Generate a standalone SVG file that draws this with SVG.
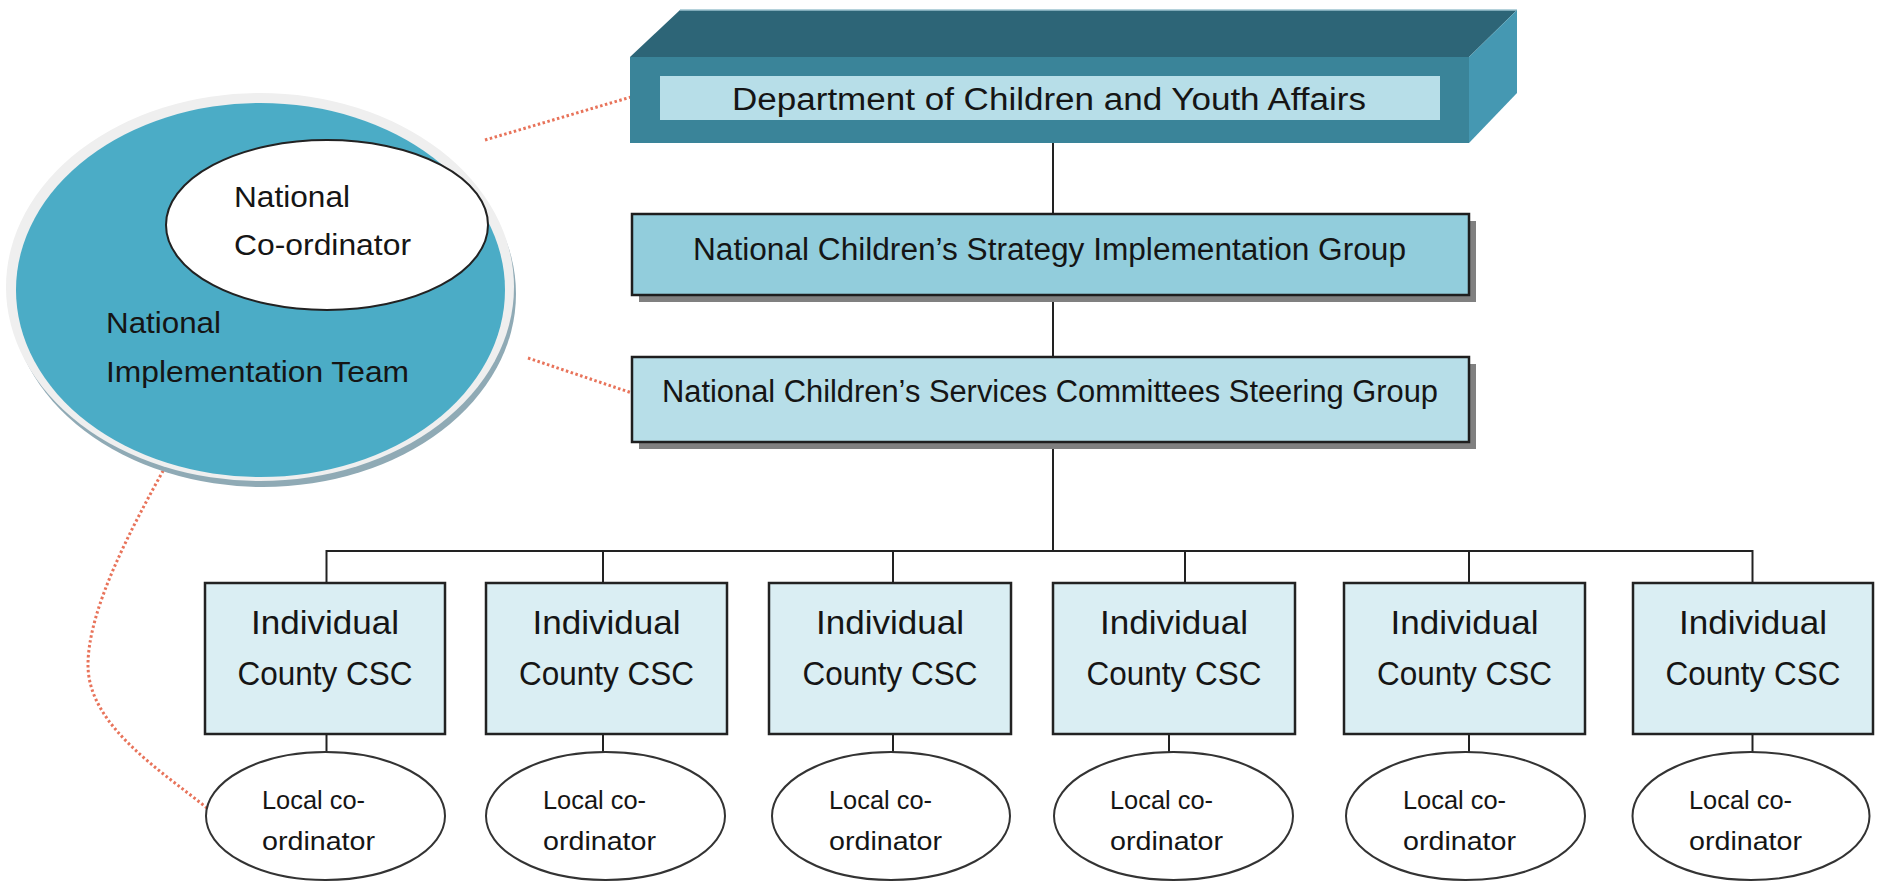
<svg xmlns="http://www.w3.org/2000/svg" width="1878" height="881" viewBox="0 0 1878 881">
<defs>
<style>
.t{font-family:"Liberation Sans",Arial,sans-serif;fill:#151515}
.big{font-size:31px}
.cty{font-size:34px;text-anchor:middle}
.loc{font-size:26px}
.nat{font-size:30px}
.con{stroke:#222;stroke-width:2;fill:none}
.dot{stroke:#E8735A;stroke-width:3;stroke-dasharray:2.5 2.5;fill:none}
.box{stroke:#1e1e1e;stroke-width:2.5}
.cbox{fill:#DAEEF3;stroke:#222;stroke-width:2.5}
.lell{fill:#fff;stroke:#333;stroke-width:2}
</style>
</defs>
<rect width="1878" height="881" fill="#fff"/>

<g id="connectors">
<line class="con" x1="1053" y1="143" x2="1053" y2="214"/>
<line class="con" x1="1053" y1="295" x2="1053" y2="357"/>
<line class="con" x1="1053" y1="442" x2="1053" y2="551"/>
<line class="con" x1="326.5" y1="551" x2="1752.5" y2="551"/>
<line class="con" x1="326.5" y1="550" x2="326.5" y2="583"/>
<line class="con" x1="603" y1="551" x2="603" y2="583"/>
<line class="con" x1="893" y1="551" x2="893" y2="583"/>
<line class="con" x1="1185" y1="551" x2="1185" y2="583"/>
<line class="con" x1="1469" y1="551" x2="1469" y2="583"/>
<line class="con" x1="1752.5" y1="550" x2="1752.5" y2="583"/>
<line class="con" x1="326.5" y1="734" x2="326.5" y2="752"/>
<line class="con" x1="603" y1="734" x2="603" y2="752"/>
<line class="con" x1="893" y1="734" x2="893" y2="752"/>
<line class="con" x1="1169" y1="734" x2="1169" y2="752"/>
<line class="con" x1="1469" y1="734" x2="1469" y2="752"/>
<line class="con" x1="1752.5" y1="734" x2="1752.5" y2="752"/>
<line class="dot" x1="485" y1="140" x2="631" y2="97"/>
<line class="dot" x1="528" y1="358" x2="632" y2="393"/>
<path class="dot" d="M168,462 C130,530 88,610 88,665 C88,725 160,770 207,808"/>
</g>

<g id="dept">
<polygon points="680,10 1517,10 1469,57 630,57" fill="#2D6577"/>
<line x1="680" y1="10" x2="1517" y2="10" stroke="#9cc3cf" stroke-width="1.5"/>
<polygon points="1469,57 1517,10 1517,93 1469,143" fill="#4598B2"/>
<rect x="630" y="57" width="839" height="86" fill="#3A8499"/>
<rect x="660" y="76" width="780" height="44" fill="#B7DEE8"/>
<text class="t big" x="732" y="110" textLength="634" lengthAdjust="spacingAndGlyphs">Department of Children and Youth Affairs</text>
</g>

<g id="ncsig">
<rect x="639" y="221" width="837" height="81" fill="#808080"/>
<rect class="box" x="632" y="214" width="837" height="81" fill="#92CDDC"/>
<text class="t big" x="693" y="260" textLength="713" lengthAdjust="spacingAndGlyphs">National Children’s Strategy Implementation Group</text>
</g>

<g id="ncscsg">
<rect x="639" y="364" width="837" height="85" fill="#808080"/>
<rect class="box" x="632" y="357" width="837" height="85" fill="#B7DEE8"/>
<text class="t big" x="662" y="402" textLength="776" lengthAdjust="spacingAndGlyphs">National Children’s Services Committees Steering Group</text>
</g>

<g id="nit">
<ellipse cx="263" cy="294" rx="253" ry="193" fill="#8FAAB5"/>
<ellipse cx="260" cy="287" rx="254" ry="194" fill="#EFEFEF"/>
<ellipse cx="260.5" cy="290" rx="244.5" ry="187" fill="#4BACC6"/>
<text class="t nat" x="106" y="333" textLength="115" lengthAdjust="spacingAndGlyphs">National</text>
<text class="t nat" x="106" y="382" textLength="303" lengthAdjust="spacingAndGlyphs">Implementation Team</text>
</g>

<g id="national-coordinator">
<ellipse cx="327" cy="225" rx="161" ry="85" fill="#fff" stroke="#222" stroke-width="2"/>
<text class="t nat" x="234" y="207" textLength="116" lengthAdjust="spacingAndGlyphs">National</text>
<text class="t nat" x="234" y="255" textLength="177" lengthAdjust="spacingAndGlyphs">Co-ordinator</text>
</g>

<g id="csc1">
<rect class="cbox" x="205" y="583" width="240" height="151"/>
<text class="t cty" x="325" y="634" textLength="148" lengthAdjust="spacingAndGlyphs">Individual</text>
<text class="t cty" x="325" y="685" textLength="175" lengthAdjust="spacingAndGlyphs">County CSC</text>
</g>
<g id="csc2">
<rect class="cbox" x="486" y="583" width="241" height="151"/>
<text class="t cty" x="606.5" y="634" textLength="148" lengthAdjust="spacingAndGlyphs">Individual</text>
<text class="t cty" x="606.5" y="685" textLength="175" lengthAdjust="spacingAndGlyphs">County CSC</text>
</g>
<g id="csc3">
<rect class="cbox" x="769" y="583" width="242" height="151"/>
<text class="t cty" x="890" y="634" textLength="148" lengthAdjust="spacingAndGlyphs">Individual</text>
<text class="t cty" x="890" y="685" textLength="175" lengthAdjust="spacingAndGlyphs">County CSC</text>
</g>
<g id="csc4">
<rect class="cbox" x="1053" y="583" width="242" height="151"/>
<text class="t cty" x="1174" y="634" textLength="148" lengthAdjust="spacingAndGlyphs">Individual</text>
<text class="t cty" x="1174" y="685" textLength="175" lengthAdjust="spacingAndGlyphs">County CSC</text>
</g>
<g id="csc5">
<rect class="cbox" x="1344" y="583" width="241" height="151"/>
<text class="t cty" x="1464.5" y="634" textLength="148" lengthAdjust="spacingAndGlyphs">Individual</text>
<text class="t cty" x="1464.5" y="685" textLength="175" lengthAdjust="spacingAndGlyphs">County CSC</text>
</g>
<g id="csc6">
<rect class="cbox" x="1633" y="583" width="240" height="151"/>
<text class="t cty" x="1753" y="634" textLength="148" lengthAdjust="spacingAndGlyphs">Individual</text>
<text class="t cty" x="1753" y="685" textLength="175" lengthAdjust="spacingAndGlyphs">County CSC</text>
</g>

<g id="local1">
<ellipse class="lell" cx="325.5" cy="816" rx="119.5" ry="64"/>
<text class="t loc" x="262" y="809" textLength="103" lengthAdjust="spacingAndGlyphs">Local co-</text>
<text class="t loc" x="262" y="850" textLength="113" lengthAdjust="spacingAndGlyphs">ordinator</text>
</g>
<g id="local2">
<ellipse class="lell" cx="605.5" cy="816" rx="119.5" ry="64"/>
<text class="t loc" x="543" y="809" textLength="103" lengthAdjust="spacingAndGlyphs">Local co-</text>
<text class="t loc" x="543" y="850" textLength="113" lengthAdjust="spacingAndGlyphs">ordinator</text>
</g>
<g id="local3">
<ellipse class="lell" cx="891" cy="816" rx="119" ry="64"/>
<text class="t loc" x="829" y="809" textLength="103" lengthAdjust="spacingAndGlyphs">Local co-</text>
<text class="t loc" x="829" y="850" textLength="113" lengthAdjust="spacingAndGlyphs">ordinator</text>
</g>
<g id="local4">
<ellipse class="lell" cx="1173.5" cy="816" rx="119.5" ry="64"/>
<text class="t loc" x="1110" y="809" textLength="103" lengthAdjust="spacingAndGlyphs">Local co-</text>
<text class="t loc" x="1110" y="850" textLength="113" lengthAdjust="spacingAndGlyphs">ordinator</text>
</g>
<g id="local5">
<ellipse class="lell" cx="1465.5" cy="816" rx="119.5" ry="64"/>
<text class="t loc" x="1403" y="809" textLength="103" lengthAdjust="spacingAndGlyphs">Local co-</text>
<text class="t loc" x="1403" y="850" textLength="113" lengthAdjust="spacingAndGlyphs">ordinator</text>
</g>
<g id="local6">
<ellipse class="lell" cx="1751" cy="816" rx="118.5" ry="64"/>
<text class="t loc" x="1689" y="809" textLength="103" lengthAdjust="spacingAndGlyphs">Local co-</text>
<text class="t loc" x="1689" y="850" textLength="113" lengthAdjust="spacingAndGlyphs">ordinator</text>
</g>
</svg>
